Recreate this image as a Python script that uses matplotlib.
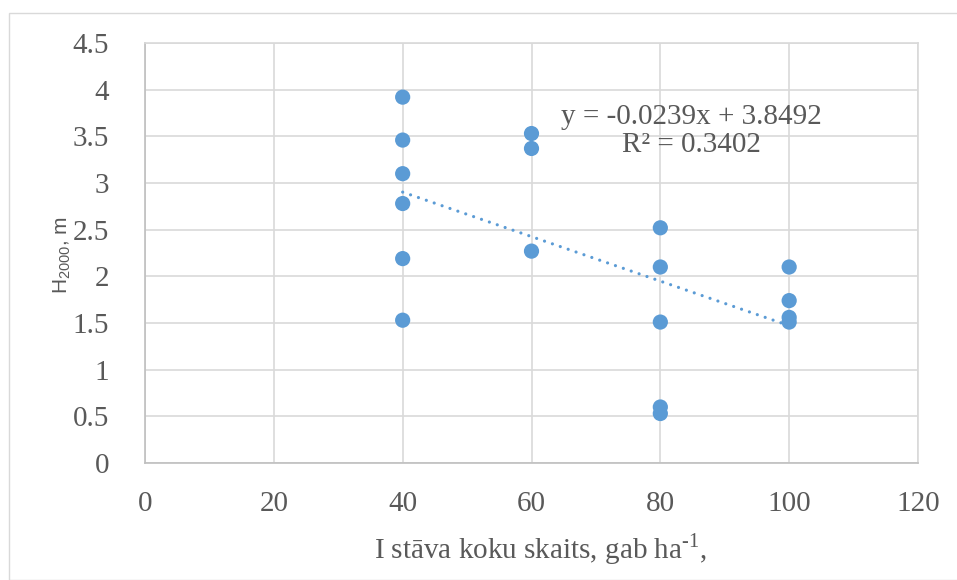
import numpy as np
import matplotlib
matplotlib.use("Agg")
import matplotlib.pyplot as plt
from matplotlib.patches import Rectangle

# Data
x_40 = [40, 40, 40, 40, 40, 40]
y_40 = [3.92, 3.46, 3.10, 2.78, 2.19, 1.53]
x_60 = [60, 60, 60]
y_60 = [3.53, 3.37, 2.27]
x_80 = [80, 80, 80, 80, 80]
y_80 = [2.52, 2.10, 1.51, 0.60, 0.53]
x_100 = [100, 100, 100, 100]
y_100 = [2.10, 1.74, 1.56, 1.51]

x_ticks = [0, 20, 40, 60, 80, 100, 120]
y_ticks = [0, 0.5, 1, 1.5, 2, 2.5, 3, 3.5, 4, 4.5]
y_tick_labels = ["0", "0.5", "1", "1.5", "2", "2.5", "3", "3.5", "4", "4.5"]
equation_text = "y = -0.0239x + 3.8492\nR² = 0.3402"
x_label = "I stāva koku skaits, gab ha$^{\\mathregular{\u2010 1}}$,"
y_label = "H$_{\\mathregular{2000}}$, m"

xs = np.array(x_40 + x_60 + x_80 + x_100, dtype=float)
ys = np.array(y_40 + y_60 + y_80 + y_100, dtype=float)

blue = "#5B9BD5"
text_col = "#595959"
grid_col = "#D9D9D9"

W, H = 957, 580
fig = plt.figure(figsize=(W / 100, H / 100), dpi=100)
fig.patches.append(Rectangle((9 / W, 0), 1.0, 1 - 13 / H, transform=fig.transFigure,
                             fill=False, edgecolor=grid_col, linewidth=1.0, zorder=0))

left, right, top, bottom = 145, 918, 43, 463
ax = fig.add_axes([left / W, 1 - bottom / H, (right - left) / W, (bottom - top) / H])

ax.set_xlim(0, 120)
ax.set_ylim(0, 4.5)
ax.set_xticks(x_ticks)
ax.set_yticks(y_ticks)
ax.set_yticklabels(y_tick_labels)
ax.grid(True, color=grid_col, linewidth=1.2, zorder=0)
ax.set_axisbelow(True)
ax.tick_params(length=0, labelsize=21, colors=text_col)
ax.tick_params(axis="y", pad=26)
ax.tick_params(axis="x", pad=20)
for lab in ax.get_xticklabels() + ax.get_yticklabels():
    lab.set_fontfamily("Liberation Serif")

for s in ["left", "bottom"]:
    ax.spines[s].set_color("#BFBFBF")
    ax.spines[s].set_linewidth(1.2)
for s in ["top", "right"]:
    ax.spines[s].set_color(grid_col)
    ax.spines[s].set_linewidth(1.2)

ax.scatter(xs, ys, s=120, color=blue, edgecolors="none", zorder=3, clip_on=False)

# linear trend line
slope, intercept = np.polyfit(xs, ys, 1)
tx = np.array([xs.min(), xs.max()])
ax.plot(tx, slope * tx + intercept, color=blue, linewidth=2.3,
        linestyle=(0, (0.01, 2.6)), dash_capstyle="round", zorder=2)

ax.text(0.707, 0.79, equation_text, transform=ax.transAxes, ha="center", va="center",
        fontsize=21, family="Liberation Serif", color=text_col, linespacing=1.12)

fig.text(540 / W, 1 - 549 / H, x_label, ha="center", va="center", fontsize=21,
         family="Liberation Serif", color=text_col)
fig.text(62 / W, 1 - 255 / H, y_label, ha="center", va="center", rotation=90,
         fontsize=15, family="Liberation Sans", color=text_col)

fig.savefig("out.png", dpi=100)
